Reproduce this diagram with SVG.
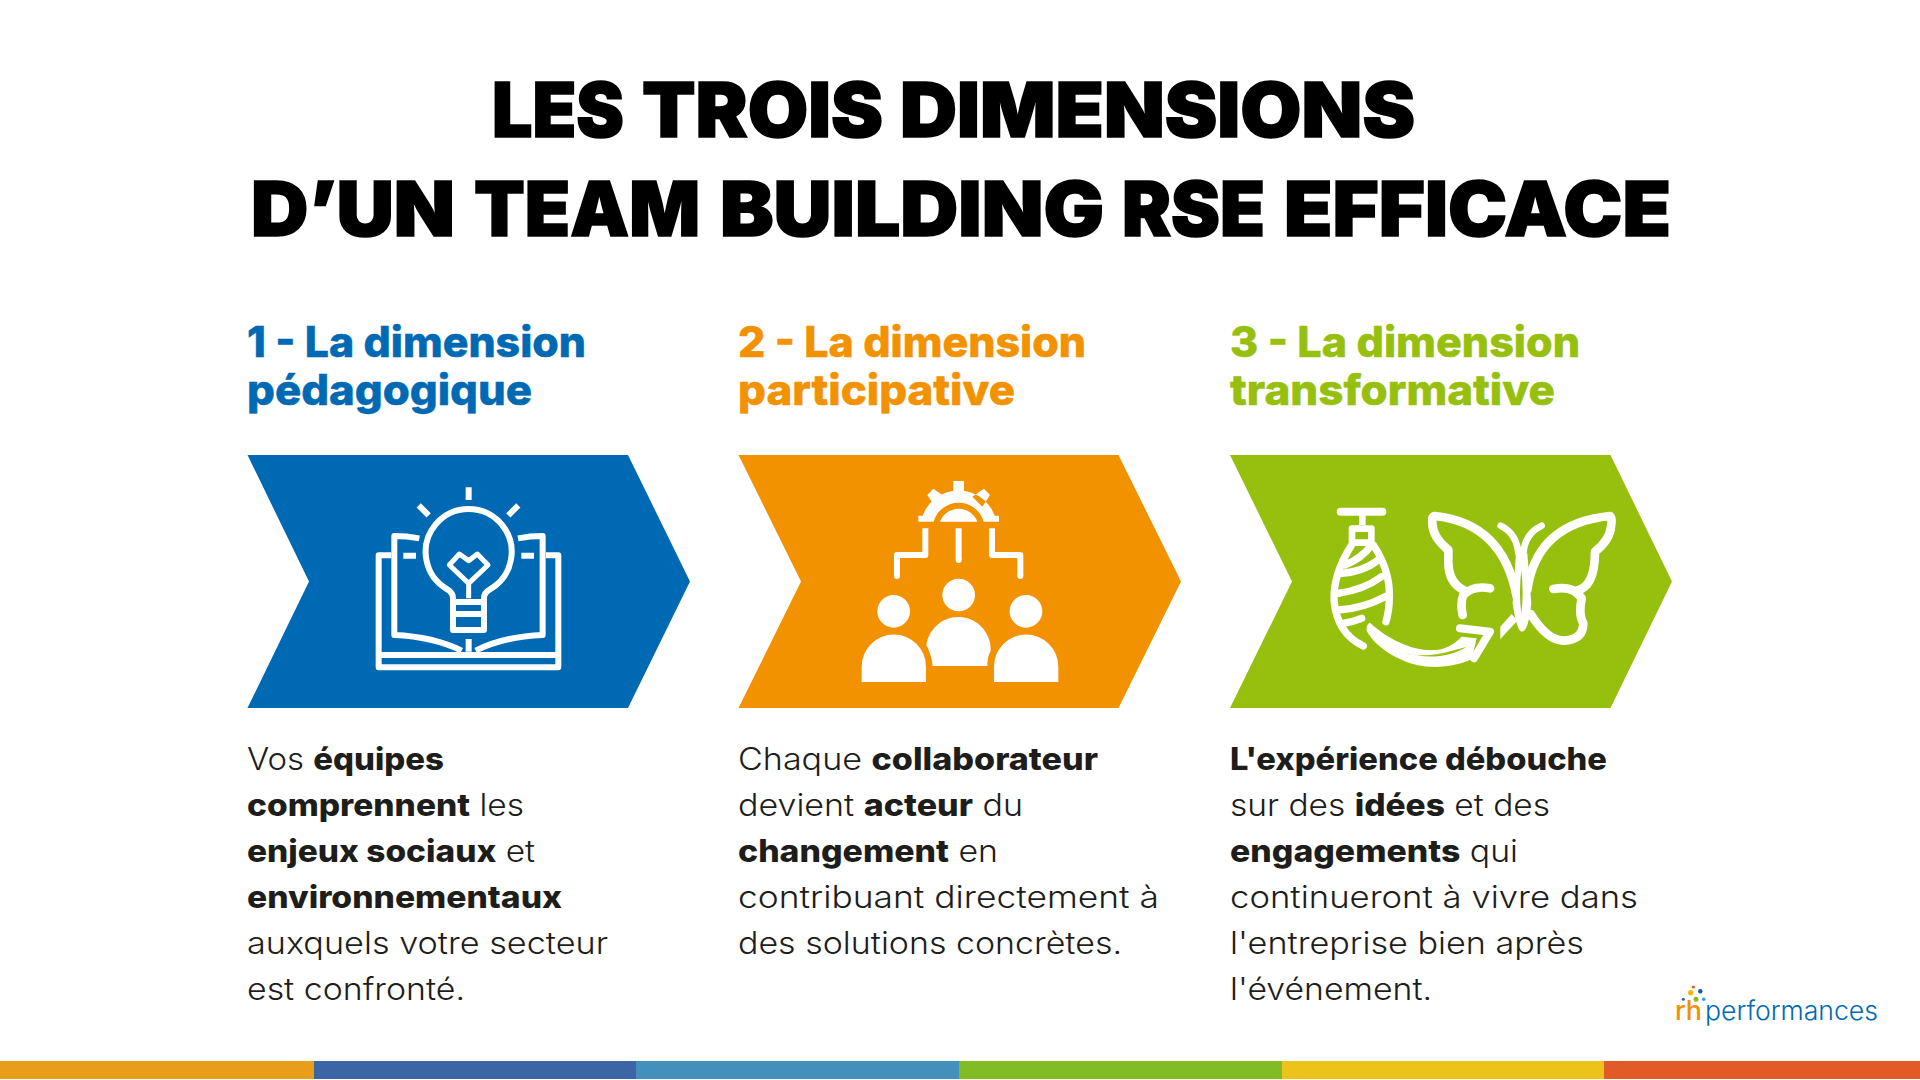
<svg xmlns="http://www.w3.org/2000/svg" width="1920" height="1080" viewBox="0 0 1920 1080">
<style>
text{font-family:"Inter","Liberation Sans",sans-serif}
.t{font-size:75px;font-weight:900;fill:#000;stroke:#000;stroke-width:1.6}
.h{font-size:42px;font-weight:800;stroke-width:.5}
.b{font-size:31px;font-weight:300;fill:#1d1d1b}
.b tspan{font-weight:800}
.l{font-size:26.500px;font-weight:300}
.blue{fill:#0069b4}.orange{fill:#f39200}.green{fill:#97bf0d}
.h.blue{stroke:#0069b4}.h.orange{stroke:#f39200}.h.green{stroke:#97bf0d}
.s{fill:none;stroke:#fff;stroke-width:18;stroke-linejoin:round}
.r{stroke-linecap:round}
.f{fill:#fff}
</style>
<rect width="1920" height="1080" fill="#fff"/>
<g id="title">
<text class="t" y="137"><tspan x="492" textLength="132" lengthAdjust="spacingAndGlyphs">LES</tspan> <tspan x="642" textLength="241" lengthAdjust="spacingAndGlyphs">TROIS</tspan> <tspan x="900" textLength="515" lengthAdjust="spacingAndGlyphs">DIMENSIONS</tspan></text>
<text class="t" y="236"><tspan x="251" textLength="204" lengthAdjust="spacingAndGlyphs">D’UN</tspan> <tspan x="474" textLength="226" lengthAdjust="spacingAndGlyphs">TEAM</tspan> <tspan x="720" textLength="384" lengthAdjust="spacingAndGlyphs">BUILDING</tspan> <tspan x="1122" textLength="143" lengthAdjust="spacingAndGlyphs">RSE</tspan> <tspan x="1284" textLength="387" lengthAdjust="spacingAndGlyphs">EFFICACE</tspan></text>
</g>
<g id="col1">
<text class="h blue" x="247" y="357" textLength="339" lengthAdjust="spacingAndGlyphs">1 - La dimension</text>
<text class="h blue" x="247" y="405" textLength="285" lengthAdjust="spacingAndGlyphs">pédagogique</text>
<polygon class="blue" points="247.500,455 628,455 690,581.500 628,708 247.500,708 309,581.500"/>
<g id="icon1" transform="translate(360 470) scale(.3333)">
<path class="s" d="M326 52V90M176 106L206 136M475 106L445 136"/>
<path class="s" d="M279 385Q279 368 262 358A129 129 0 1 1 390 358Q372 368 372 385V480H279ZM279 396H372M279 432H372"/>
<path class="s" style="stroke-width:15" d="M326 272L298 252L268 285L326 340L384 285L352 252ZM326 335V385"/>
<path class="s" d="M178 205Q140 198 103 198V495Q220 500 305 542M474 205Q510 198 548 198V495Q430 500 347 542"/>
<path class="s" d="M94 256H56V592H595V256H558M56 555H595M130 257H168M484 257H522M326 507V545"/>
</g>
<text class="b" x="247" y="770" textLength="197" lengthAdjust="spacingAndGlyphs">Vos <tspan>équipes</tspan></text>
<text class="b" x="247" y="816" textLength="277" lengthAdjust="spacingAndGlyphs"><tspan>comprennent</tspan> les</text>
<text class="b" x="247" y="862" textLength="288" lengthAdjust="spacingAndGlyphs"><tspan>enjeux sociaux</tspan> et</text>
<text class="b" x="247" y="908" textLength="315" lengthAdjust="spacingAndGlyphs"><tspan>environnementaux</tspan></text>
<text class="b" x="247" y="954" textLength="361" lengthAdjust="spacingAndGlyphs">auxquels votre secteur</text>
<text class="b" x="247" y="1000" textLength="218" lengthAdjust="spacingAndGlyphs">est confronté.</text>
</g>
<g id="col2">
<text class="h orange" x="738" y="357" textLength="348" lengthAdjust="spacingAndGlyphs">2 - La dimension</text>
<text class="h orange" x="738" y="405" textLength="277" lengthAdjust="spacingAndGlyphs">participative</text>
<polygon class="orange" points="738.500,455 1118.500,455 1181,581.500 1118.500,708 738.500,708 801,581.500"/>
<g id="icon2" transform="translate(850 470) scale(.3333)">
<path class="f" d="M213 155A115 115 0 0 1 439 155H401A78 78 0 0 0 251 155ZM205 137H250V155H205ZM402 137H447V155H402ZM310 33H342V70H310ZM232 75L250 56L285 80L255 110ZM420 75L402 56L367 80L397 110ZM270 155A60 60 0 0 1 382 155Z"/>
<path class="s" d="M226 175V255H141V318M326 175V270M426 175V255H511V318"/>
<path class="s r" d="M141 318h0M326 270h0M511 318h0"/>
<circle class="f" cx="326" cy="375" r="49"/><circle class="f" cx="131" cy="424" r="49"/><circle class="f" cx="528" cy="424" r="49"/>
<path class="f" d="M35 636V590A96.500 96.500 0 0 1 228 590V636ZM432 636V590A96.500 96.500 0 0 1 625 590V636ZM248 588Q245 555 229 525A97 97 0 0 1 422 543Q412 560 412 588Z"/>
</g>
<text class="b" x="738" y="770" textLength="360" lengthAdjust="spacingAndGlyphs">Chaque <tspan>collaborateur</tspan></text>
<text class="b" x="738" y="816" textLength="285" lengthAdjust="spacingAndGlyphs">devient <tspan>acteur</tspan> du</text>
<text class="b" x="738" y="862" textLength="260" lengthAdjust="spacingAndGlyphs"><tspan>changement</tspan> en</text>
<text class="b" x="738" y="908" textLength="421" lengthAdjust="spacingAndGlyphs">contribuant directement à</text>
<text class="b" x="738" y="954" textLength="384" lengthAdjust="spacingAndGlyphs">des solutions concrètes.</text>
</g>
<g id="col3">
<text class="h green" x="1230" y="357" textLength="350" lengthAdjust="spacingAndGlyphs">3 - La dimension</text>
<text class="h green" x="1230" y="405" textLength="325" lengthAdjust="spacingAndGlyphs">transformative</text>
<polygon class="green" points="1230,455 1610.500,455 1672,581.500 1610.500,708 1230,708 1292,581.500"/>
<g id="icon3" transform="translate(1320 490) scale(.3333)">
<path class="s r" style="stroke-width:24" d="M62 65H187"/>
<path class="s" style="stroke-width:20" d="M127 65V105M96 158V116H154V158H96"/>
<path class="s r" style="stroke-width:22" d="M95 165Q40 250 42 330Q50 430 130 468M160 165Q210 240 208 320Q208 360 198 395M65 250Q130 245 175 210M55 310Q130 300 185 260M55 360Q130 355 195 320M70 400Q100 395 125 385M75 225Q125 205 155 165"/>
<path class="f" d="M150 398C205 450 285 485 345 480C375 478 400 465 425 440L470 445L455 508C410 528 350 538 290 525C230 510 165 470 140 422Q138 403 150 398Z"/>
<path d="M255 490C310 505 375 490 440 470C385 505 320 505 255 490Z" fill="#97bf0d"/>
<path class="s r" style="stroke-width:24" d="M420 415L510 425L462 505"/>
<path class="s r" style="stroke-width:26" d="M590 320Q550 100 345 78Q335 78 337 95Q335 140 385 180V215Q385 280 435 302M510 295Q460 285 430 315Q420 340 428 375M622 300Q650 100 870 78Q878 85 873 110Q870 150 825 185Q825 290 770 302M700 297Q760 285 785 325Q775 375 790 400Q790 450 730 452Q680 450 632 372"/>
<path class="s r" style="stroke-width:20" d="M542 107Q590 130 595 190M665 107Q615 130 610 190"/>
<path class="f" d="M588 190H622L634 340Q625 425 606 425Q590 425 578 340Z"/>
<path d="M604 240Q596 310 604 372Q612 310 604 240Z" fill="#97bf0d"/>
<path class="f" d="M541 410L575 372L592 392L541 447Z"/>
</g>
<text class="b" x="1230" y="770" textLength="377" lengthAdjust="spacingAndGlyphs"><tspan>L'expérience débouche</tspan></text>
<text class="b" x="1230" y="816" textLength="320" lengthAdjust="spacingAndGlyphs">sur des <tspan>idées</tspan> et des</text>
<text class="b" x="1230" y="862" textLength="288" lengthAdjust="spacingAndGlyphs"><tspan>engagements</tspan> qui</text>
<text class="b" x="1230" y="908" textLength="408" lengthAdjust="spacingAndGlyphs">continueront à vivre dans</text>
<text class="b" x="1230" y="954" textLength="354" lengthAdjust="spacingAndGlyphs">l'entreprise bien après</text>
<text class="b" x="1230" y="1000" textLength="202" lengthAdjust="spacingAndGlyphs">l'événement.</text>
</g>
<g id="logo">
<circle cx="1693.300" cy="987" r="1.600" fill="#e2582a"/>
<circle cx="1690.700" cy="992.700" r="2.700" fill="#f6b60f"/>
<circle cx="1700.300" cy="991.300" r="2.200" fill="#0f5da8"/>
<circle cx="1683.300" cy="999.300" r="1.500" fill="#2b5ea7"/>
<circle cx="1696" cy="999.300" r="2.500" fill="#8fb821"/>
<circle cx="1703.700" cy="999.300" r="1.800" fill="#2ea0dc"/>
<text class="l orange" x="1675" y="1019.500" textLength="27" lengthAdjust="spacingAndGlyphs" style="font-weight:500">rh</text>
<text class="l blue" x="1705" y="1019.500" textLength="173" lengthAdjust="spacingAndGlyphs">performances</text>
</g>
<g id="bar">
<rect x="0" y="1061" width="314" height="18" fill="#e99e1b"/>
<rect x="314" y="1061" width="322" height="18" fill="#3b65a5"/>
<rect x="636" y="1061" width="323" height="18" fill="#4390bd"/>
<rect x="959" y="1061" width="323" height="18" fill="#82bc24"/>
<rect x="1282" y="1061" width="322" height="18" fill="#ecc31a"/>
<rect x="1604" y="1061" width="316" height="18" fill="#e15a28"/>
</g>
</svg>
